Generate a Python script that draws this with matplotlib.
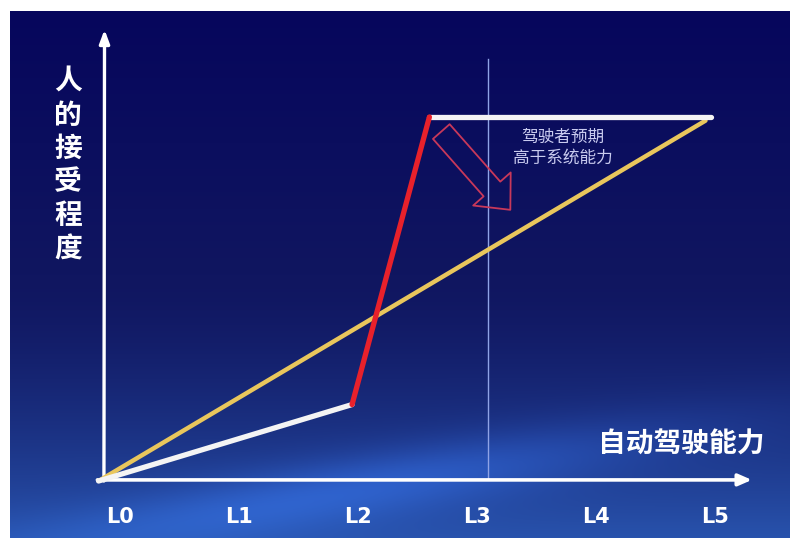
import numpy as np
import matplotlib
matplotlib.use("Agg")
import matplotlib.pyplot as plt

plt.rcParams["font.family"] = ["Noto Sans CJK SC", "DejaVu Sans"]

# data
levels = ["L0", "L1", "L2", "L3", "L4", "L5"]
level_pos = [0, 1, 2, 3, 4, 5]

# human acceptance (white / red / white)
human_x = [-0.18, 1.95, 2.6, 4.97]
human_y = [0.0, 0.21, 1.0, 1.0]
human_colors = ["#f4f4f4", "#e8212b", "#f4f4f4"]

# system capability (yellow)
system_x = [-0.18, 4.92]
system_y = [0.0, 0.99]

l3_line_x = 3.09
note_text = "驾驶者预期\n高于系统能力"
x_title = "自动驾驶能力"
y_title = "人的接受程度"

W, H = 790, 538
fig = plt.figure(figsize=(W / 100, H / 100), dpi=100, facecolor="white")

# slide background (photo of a projected slide)
ax_bg = fig.add_axes([10 / W, 0, 780 / W, 527 / H])
ny, nx = 300, 400
yy, xx = np.mgrid[0:1:ny * 1j, 0:1:nx * 1j]
top = np.array([6, 6, 92]) / 255
mid = np.array([16, 22, 96]) / 255
bot = np.array([40, 82, 172]) / 255
t = np.clip((yy - 0.5) / 0.5, 0, 1) ** 1.5
img = top[None, None, :] * (1 - np.clip(yy / 0.5, 0, 1))[..., None] \
    + mid[None, None, :] * np.clip(yy / 0.5, 0, 1)[..., None]
img = img * (1 - t[..., None]) + bot[None, None, :] * t[..., None]
# soft diagonal glow near the bottom
band = np.exp(-((yy - 0.93 + 0.25 * (xx - 0.35)) ** 2) / 0.004) * np.exp(-((xx - 0.45) ** 2) / 0.15)
img = img + band[..., None] * np.array([0.05, 0.12, 0.2])
img = np.clip(img, 0, 1)
ax_bg.imshow(img, aspect="auto", extent=[0, 1, 0, 1])
ax_bg.axis("off")

# chart axes (pixel mapping: x_px = 120 + 119*x, y_px = 481 - 364*v)
ax = fig.add_axes([0, 0, 1, 1])
ax.patch.set_alpha(0)
ax.set_xlim(-120 / 119, (W - 120) / 119)
ax.set_ylim(-57 / 364, (H - 57) / 364)
ax.axis("off")

# axes arrows
ax.annotate("", xy=(5.31, 0.003), xytext=(-0.19, 0.003),
            arrowprops=dict(arrowstyle="-|>,head_length=0.8,head_width=0.35",
                            color="white", lw=2.6, shrinkA=0, shrinkB=0))
ax.annotate("", xy=(-0.13, 1.24), xytext=(-0.135, 0.0),
            arrowprops=dict(arrowstyle="-|>,head_length=0.8,head_width=0.3",
                            color="white", lw=2.4, shrinkA=0, shrinkB=0))

# thin vertical reference line
ax.plot([l3_line_x, l3_line_x], [0.005, 1.159], color="#8fa3e6", lw=1.0, zorder=2)

# system line
ax.plot(system_x, system_y, color="#e9c65c", lw=3.2, solid_capstyle="round", zorder=3)

# human acceptance segments
for i, c in enumerate(human_colors):
    ax.plot(human_x[i:i + 2], human_y[i:i + 2], color=c, lw=3.8,
            solid_capstyle="round", zorder=4 if c != "#f4f4f4" else 3.5)

# hollow arrow
ax.annotate("", xy=(3.28, 0.745), xytext=(2.7, 0.96),
            arrowprops=dict(arrowstyle="simple,head_length=1.0,head_width=1.8,tail_width=0.8",
                            fc="none", ec="#c8385a", lw=1.3, mutation_scale=20,
                            shrinkA=0, shrinkB=0))

ax.text(3.72, 0.915, note_text, color="#c9cbef", fontsize=12, ha="center",
        va="center", linespacing=1.3)

ax.text(4.72, 0.099, x_title, color="white", fontsize=20, fontweight="bold",
        ha="center", va="center")

for i, ch in enumerate(y_title):
    ax.text(-0.437, (481 - (82 + 33.5 * i)) / 364, ch, color="white", fontsize=20,
            fontweight="bold", ha="center", va="center")

for p, lab in zip(level_pos, levels):
    ax.text(p, -0.099, lab, color="white", fontsize=15, fontweight="bold",
            ha="center", va="center",
            family=["Liberation Sans Narrow", "DejaVu Sans"])

fig.savefig("out.png", dpi=100, facecolor="white")
